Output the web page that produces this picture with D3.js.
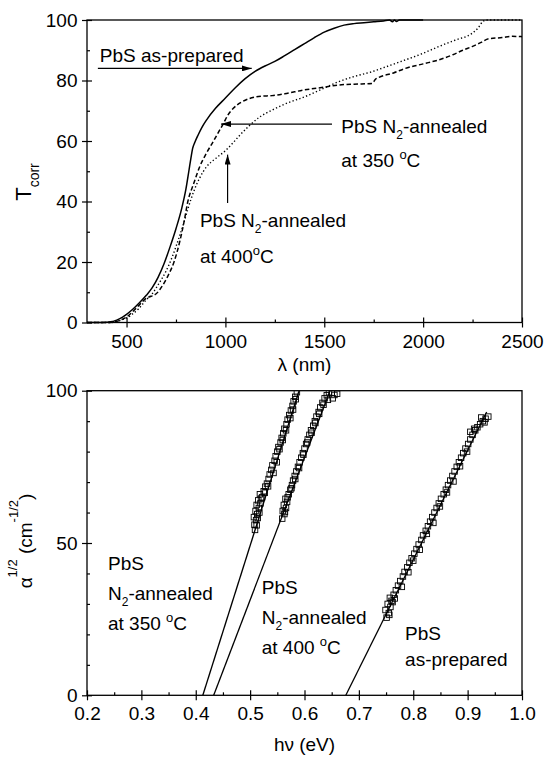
<!DOCTYPE html>
<html><head><meta charset="utf-8">
<script src="https://cdn.jsdelivr.net/npm/d3@7/dist/d3.min.js"></script>
<style>
body{margin:0;background:#fff}
text{font-family:"Liberation Sans",Arial,Helvetica,sans-serif;fill:#000}
</style>
</head><body>
<svg id="c" width="544" height="758" xmlns="http://www.w3.org/2000/svg"></svg>
<script>
// ---------------- DATA ----------------
// Top panel: corrected transmittance vs wavelength
const lambdaTicks = [500, 1000, 1500, 2000, 2500];
const lambdaMinor = [750, 1250, 1750, 2250];
const tTicks = [0, 20, 40, 60, 80, 100];
const tMinor = [10, 30, 50, 70, 90];

const asPrepared = [
  [300,0],[350,0],[400,0.1],[430,0.3],[450,0.8],[480,1.8],[500,2.7],[530,4.3],[560,6.2],[600,9.0],
  [630,11.5],[660,15],[690,19.5],[720,25],[750,31],[780,38],[800,44],[815,50],[826,54.5],[834,57.5],
  [845,59.5],[862,62],[882,64.6],[905,67],[950,70.8],[1000,74.2],[1050,77.6],[1100,80.6],[1150,83],
  [1200,84.8],[1250,86.3],[1300,88.2],[1350,90.2],[1400,92.2],[1450,94.2],[1500,96],[1550,97.3],
  [1600,98.3],[1650,98.8],[1700,99.1],[1750,99.4],[1800,99.7],[1830,100],[1845,99.4],[1855,100],
  [1865,99.5],[1880,100],[1950,100],[2000,100]
];
const annealed350 = [
  [300,0],[400,0],[440,0.2],[470,0.8],[500,1.8],[530,3.5],[560,5.5],[600,8.0],[630,8.8],[650,9.5],
  [680,12],[710,15.5],[740,20],[770,27],[790,33],[810,40],[840,46],[870,51.5],[900,55.5],[940,60],
  [970,63.5],[990,65.8],[1010,68.3],[1040,70.8],[1080,72.8],[1120,74],[1180,74.8],[1236,75],
  [1300,75.6],[1400,76.9],[1500,77.8],[1573,78.5],[1650,78.8],[1741,79],[1760,80.5],[1775,81],
  [1850,82.5],[1910,84],[2000,85.5],[2078,86.8],[2150,88.5],[2200,90],[2247,91.2],[2290,92.5],
  [2331,93.8],[2400,94.2],[2450,94.6],[2500,94.5]
];
const annealed400 = [
  [300,0],[420,0],[450,0.3],[480,1.0],[500,1.5],[530,2.8],[560,4.5],[600,7.5],[630,9.5],[660,12.5],
  [700,17],[730,21.5],[760,27],[790,33],[810,37.5],[838,43],[870,47.8],[905,51.5],[950,54.2],
  [1000,56.8],[1040,59.5],[1074,62],[1120,65],[1175,68],[1236,70.2],[1300,72.2],[1404,74.7],
  [1500,77.5],[1573,79.6],[1650,81.3],[1741,82.9],[1820,84.7],[1910,86.8],[2000,89],[2078,91.2],
  [2160,93.3],[2247,95.6],[2280,97.5],[2300,99.4],[2320,100],[2500,100]
];

// Bottom panel: alpha^1/2 vs photon energy
const hvTicks = [0.2, 0.3, 0.4, 0.5, 0.6, 0.7, 0.8, 0.9, 1.0];
const hvMinor = [0.25, 0.35, 0.45, 0.55, 0.65, 0.75, 0.85, 0.95];
const alphaTicks = [0, 50, 100];
const alphaMinor = [10, 20, 30, 40, 60, 70, 80, 90];

const pts350 = [
  [0.509,54.3],[0.508,56.0],[0.511,57.5],[0.507,58.5],[0.513,59.5],[0.510,60.5],[0.516,61.5],
  [0.512,62.5],[0.519,63.0],[0.515,64.0],[0.522,65.0],[0.518,66.0],[0.525,67.0],[0.528,68.5],
  [0.531,69.5],[0.534,71.0],[0.536,72.5],[0.539,74.0],[0.541,75.5],[0.545,77.0],[0.547,78.5],
  [0.550,80.0],[0.552,81.5],[0.556,83.0],[0.558,84.5],[0.561,86.0],[0.563,87.5],[0.567,89.0],
  [0.569,90.5],[0.572,92.0],[0.575,93.5],[0.578,95.0],[0.580,96.5],[0.583,98.0],[0.586,99.5],
  [0.512,55.8],[0.514,58.2],[0.517,60.0],[0.520,64.6],[0.527,66.5],[0.533,68.6],[0.543,73.0],
  [0.549,76.5],[0.554,80.8],[0.560,83.8],[0.566,87.0],[0.574,91.0],[0.579,93.8],[0.584,97.2]
];
const pts400 = [
  [0.559,58.0],[0.563,59.5],[0.560,60.5],[0.566,61.5],[0.562,62.5],[0.568,63.5],[0.565,64.5],
  [0.571,66.0],[0.574,67.5],[0.577,69.0],[0.579,70.5],[0.582,72.0],[0.585,73.5],[0.588,75.0],
  [0.591,76.5],[0.594,78.0],[0.597,79.5],[0.600,81.0],[0.603,82.5],[0.606,84.0],[0.609,85.5],
  [0.612,87.0],[0.616,88.5],[0.619,90.0],[0.622,91.5],[0.626,93.0],[0.629,94.5],[0.633,96.0],
  [0.637,97.5],[0.641,98.5],[0.645,99.5],[0.650,99.2],[0.655,98.6],[0.660,99.0],[0.652,97.5],
  [0.564,60.2],[0.569,65.0],[0.576,68.0],[0.583,71.0],[0.590,74.6],[0.598,79.0],[0.605,83.0],
  [0.613,86.2],[0.620,89.4],[0.627,92.4],[0.635,95.4],[0.643,97.0]
];
const ptsAsPrep = [
  [0.751,25.5],[0.755,27.0],[0.749,28.0],[0.758,29.0],[0.753,30.0],[0.760,31.0],[0.757,32.0],
  [0.764,33.0],[0.768,34.5],[0.772,36.0],[0.776,37.5],[0.781,39.0],[0.784,40.5],[0.789,42.0],
  [0.793,43.5],[0.797,45.0],[0.802,46.5],[0.806,48.0],[0.810,49.5],[0.815,51.0],[0.818,52.5],
  [0.823,54.0],[0.827,55.5],[0.831,57.0],[0.835,58.5],[0.839,60.0],[0.843,61.5],[0.847,63.0],
  [0.851,64.5],[0.856,66.0],[0.860,67.5],[0.864,69.0],[0.868,70.5],[0.872,72.0],[0.876,73.5],
  [0.880,75.0],[0.884,76.5],[0.888,78.0],[0.892,79.5],[0.896,81.0],[0.901,82.5],[0.905,84.0],
  [0.909,85.5],[0.914,87.0],[0.918,88.0],[0.923,89.0],[0.928,90.0],[0.933,90.8],[0.938,91.5],
  [0.756,26.4],[0.762,30.6],[0.766,31.8],[0.779,35.6],[0.791,40.4],[0.800,44.2],[0.812,47.8],
  [0.825,53.0],[0.837,56.6],[0.849,62.0],[0.862,66.6],[0.874,70.2],[0.886,75.2],[0.899,80.0],
  [0.905,86.5],[0.912,87.5],[0.925,91.2],[0.931,89.6]
];
// fitted straight lines (endpoints)
const fit350 = [[0.413,0],[0.590,100]];
const fit400 = [[0.433,0],[0.647,100]];
const fitAsPrep = [[0.676,0],[0.935,93]];

// ---------------- DRAWING ----------------
const svg = d3.select("#c");
svg.append("rect").attr("width",544).attr("height",758).attr("fill","#fff");
const defs = svg.append("defs");
defs.append("marker").attr("id","arr").attr("markerUnits","userSpaceOnUse")
  .attr("markerWidth",10).attr("markerHeight",6).attr("refX",10).attr("refY",3)
  .attr("orient","auto")
  .append("path").attr("d","M0,0 L10,3 L0,6 Z").attr("fill","#000");

const FS = 19;
const xT = d3.scaleLinear().domain([300,2500]).range([87,522]);
const yT = d3.scaleLinear().domain([0,100]).range([322.5,20]);
const xB = d3.scaleLinear().domain([0.2,1.0]).range([87,522]);
const yB = d3.scaleLinear().domain([0,100]).range([695.3,390.7]);

function styleAxis(g){
  g.select(".domain").remove();
  g.selectAll(".tick line").attr("stroke","#000").attr("stroke-width",1.2);
  g.selectAll(".tick text").attr("font-size",FS).attr("font-family",'"Liberation Sans",Arial,sans-serif').attr("fill","#000");
}
function axes(x, y, xMaj, xMin, yMaj, yMin, xFmt, yFmt, xPad){
  const [x0,x1] = x.range(), [yb,yt] = y.range();
  svg.append("g").attr("transform",`translate(0,${yb})`)
    .call(d3.axisBottom(x).tickValues(xMaj).tickSizeInner(5).tickSizeOuter(0).tickPadding(xPad).tickFormat(xFmt)).call(styleAxis);
  svg.append("g").attr("transform",`translate(${x0},0)`)
    .call(d3.axisLeft(y).tickValues(yMaj).tickSizeInner(5).tickSizeOuter(0).tickPadding(4.5).tickFormat(yFmt)).call(styleAxis);
  svg.append("g").attr("transform",`translate(0,${yb})`)
    .call(d3.axisBottom(x).tickValues(xMaj).tickSizeInner(-5).tickSizeOuter(0).tickFormat("")).call(styleAxis);
  svg.append("g").attr("transform",`translate(${x0},0)`)
    .call(d3.axisLeft(y).tickValues(yMaj).tickSizeInner(-5).tickSizeOuter(0).tickFormat("")).call(styleAxis);
  svg.append("g").attr("transform",`translate(0,${yb})`)
    .call(d3.axisBottom(x).tickValues(xMin).tickSizeInner(-3).tickSizeOuter(0).tickFormat("")).call(styleAxis);
  svg.append("g").attr("transform",`translate(${x0},0)`)
    .call(d3.axisLeft(y).tickValues(yMin).tickSizeInner(-3).tickSizeOuter(0).tickFormat("")).call(styleAxis);
  svg.append("rect").attr("x",x0).attr("y",yt).attr("width",x1-x0).attr("height",yb-yt)
    .attr("fill","none").attr("stroke","#000").attr("stroke-width",1.3);
}

function rich(parent, x, y, parts, anchor, transform){
  const t = parent.append("text").attr("x",x).attr("y",y).attr("font-size",FS)
    .attr("text-anchor",anchor||"start").attr("xml:space","preserve");
  if (transform) t.attr("transform",transform);
  let cur = 0;
  parts.forEach(p=>{
    const off = p.off||0;
    const s = t.append("tspan").text(p.t).attr("dy", off - cur);
    if (p.fs) s.attr("font-size",p.fs);
    cur = off;
  });
  return t;
}

// ----- top panel -----
const lineT = d3.line().x(d=>xT(d[0])).y(d=>yT(d[1])).curve(d3.curveMonotoneX);
svg.append("path").datum(annealed400).attr("d",lineT).attr("fill","none").attr("stroke","#000")
  .attr("stroke-width",1.4).attr("stroke-dasharray","1.3,2.3");
svg.append("path").datum(annealed350).attr("d",lineT).attr("fill","none").attr("stroke","#000")
  .attr("stroke-width",1.5).attr("stroke-dasharray","4.5,2.5");
svg.append("path").datum(asPrepared).attr("d",lineT).attr("fill","none").attr("stroke","#000")
  .attr("stroke-width",1.5);

axes(xT, yT, lambdaTicks, lambdaMinor, tTicks, tMinor, d3.format("d"), d3.format("d"), 7);

const ann = svg.append("g");
ann.append("line").attr("x1",xT(355)).attr("y1",yT(84)).attr("x2",xT(1133)).attr("y2",yT(84))
  .attr("stroke","#000").attr("stroke-width",1.2).attr("marker-end","url(#arr)");
rich(ann, xT(365), yT(86.1), [{t:"PbS as-prepared"}]);

ann.append("line").attr("x1",xT(1539)).attr("y1",yT(65.6)).attr("x2",xT(978)).attr("y2",yT(65.6))
  .attr("stroke","#000").attr("stroke-width",1.2).attr("marker-end","url(#arr)");
rich(ann, xT(1586), yT(62.6), [{t:"PbS N"},{t:"2",fs:12,off:6},{t:"-annealed",off:0}]);
rich(ann, xT(1586), yT(51.5), [{t:"at 350 "},{t:"o",fs:13,off:-8},{t:"C",off:0}]);

ann.append("line").attr("x1",xT(1011)).attr("y1",yT(39.5)).attr("x2",xT(1011)).attr("y2",yT(55.5))
  .attr("stroke","#000").attr("stroke-width",1.2).attr("marker-end","url(#arr)");
rich(ann, xT(871), yT(31.6), [{t:"PbS N"},{t:"2",fs:12,off:6},{t:"-annealed",off:0}]);
rich(ann, xT(871), yT(19.7), [{t:"at 400"},{t:"o",fs:13,off:-8},{t:"C",off:0}]);

rich(svg, 304.5, 371, [{t:"\u03bb (nm)"}], "middle");
rich(svg, 0, 0, [{t:"T",fs:22},{t:"corr",fs:14,off:8}], "middle", "translate(31,182) rotate(-90)");

// ----- bottom panel -----
defs.append("clipPath").attr("id","clipB").append("rect")
  .attr("x",87).attr("y",390.7).attr("width",435).attr("height",304.6);
const gB = svg.append("g").attr("clip-path","url(#clipB)");
const lineB = d3.line().x(d=>xB(d[0])).y(d=>yB(d[1]));
const sq = 5.5;
[pts350, pts400, ptsAsPrep].forEach(arr=>{
  gB.selectAll(null).data(arr).enter().append("rect")
    .attr("x",d=>xB(d[0])-sq/2).attr("y",d=>yB(d[1])-sq/2)
    .attr("width",sq).attr("height",sq).attr("fill","none").attr("stroke","#000").attr("stroke-width",0.9);
});
[fit350, fit400, fitAsPrep].forEach(f=>{
  gB.append("path").datum(f).attr("d",lineB).attr("fill","none").attr("stroke","#000").attr("stroke-width",1.3);
});

axes(xB, yB, hvTicks, hvMinor, alphaTicks, alphaMinor, d3.format(".1f"), d3.format("d"), 6);

rich(svg, xB(0.2386), yB(41.1), [{t:"PbS"}]);
rich(svg, xB(0.2386), yB(31.3), [{t:"N"},{t:"2",fs:12,off:6},{t:"-annealed",off:0}]);
rich(svg, xB(0.2386), yB(21.4), [{t:"at 350 "},{t:"o",fs:13,off:-8},{t:"C",off:0}]);

rich(svg, xB(0.5213), yB(33.3), [{t:"PbS"}]);
rich(svg, xB(0.5213), yB(23.4), [{t:"N"},{t:"2",fs:12,off:6},{t:"-annealed",off:0}]);
rich(svg, xB(0.5213), yB(13.6), [{t:"at 400 "},{t:"o",fs:13,off:-8},{t:"C",off:0}]);

rich(svg, xB(0.785), yB(18.2), [{t:"PbS"}]);
rich(svg, xB(0.785), yB(9.6), [{t:"as-prepared"}]);

rich(svg, 304.5, 751, [{t:"h\u03bd (eV)"}], "middle");
rich(svg, 0, 0, [{t:"\u03b1"},{t:"1/2",fs:13,off:-15},{t:"\u00a0(cm",off:0},{t:"-1/2",fs:13,off:-14},{t:")",off:0}],
  "middle", "translate(32,541) rotate(-90)");
</script>
</body></html>
